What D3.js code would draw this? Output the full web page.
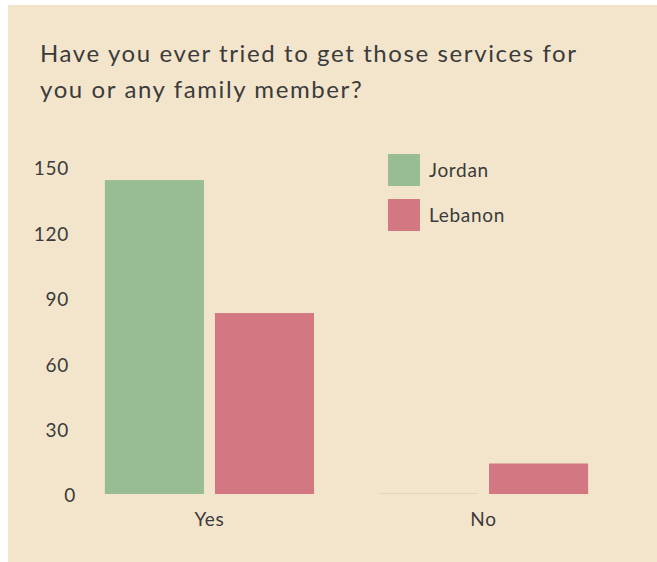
<!DOCTYPE html>
<html>
<head>
<meta charset="utf-8">
<script src="https://cdn.jsdelivr.net/npm/d3@7"></script>
<style>
  html, body { margin: 0; padding: 0; background: #ffffff; }
  svg { display: block; }
  text { font-family: Lato, "Noto Sans", sans-serif; font-weight: 400; fill: #3b3b3b; }
</style>
</head>
<body>
<div id="chart"></div>
<script>
// Chart data
const categories = ["Yes", "No"];
const countries = ["Jordan", "Lebanon"];
const jordanValues = [144, 0];
const lebanonValues = [83, 14];
const yTicks = [0, 30, 60, 90, 120, 150];
const titleLines = ["Have you ever tried to get those services for", "you or any family member?"];

const colors = { Jordan: "#98bd94", Lebanon: "#d37782" };

const width = 657, height = 562;

const svg = d3.select("#chart")
    .append("svg")
    .attr("width", width)
    .attr("height", height);

// beige panel
svg.append("rect")
    .attr("x", 8).attr("y", 5)
    .attr("width", width - 8).attr("height", height - 5)
    .attr("fill", "#f2e5cb");

// title, stretched a bit to mimic the wide original face
const title = svg.append("g");
let ls = 0;
titleLines.forEach((line, i) => {
    const t = title.append("text")
        .attr("x", 40)
        .attr("y", 62 + i * 36)
        .style("font-size", "24px")
        .text(line);
    if (i === 0) {
        const w = t.node().getComputedTextLength();
        ls = (536 - w) / (line.length - 1);
    }
    t.style("letter-spacing", ls + "px");
});

// scales
const x0 = d3.scaleBand()
    .domain(categories)
    .range([72, 621])
    .paddingInner(0.237)
    .paddingOuter(0.12);

const x1 = d3.scaleBand()
    .domain(countries)
    .range([0, x0.bandwidth()])
    .paddingInner(0.1);

const y = d3.scaleLinear()
    .domain([0, 150])
    .range([494, 167]);

const rows = categories.map((c, i) => ({
    category: c,
    values: [
        { country: "Jordan", value: jordanValues[i] },
        { country: "Lebanon", value: lebanonValues[i] }
    ]
}));

// y axis labels (no line, no ticks)
const yAxis = svg.append("g")
    .attr("transform", "translate(69,0)")
    .call(d3.axisLeft(y).tickValues(yTicks).tickSize(0).tickPadding(0));
yAxis.select(".domain").remove();
yAxis.selectAll("text")
    .attr("dy", "0.42em")
    .attr("dx", d => d === 0 ? 7 : 0)
    .style("font-size", "19px")
    .style("letter-spacing", "0.7px")
    .style("font-family", null)
    .attr("fill", "#3b3b3b");

// bars
const groups = svg.append("g")
    .selectAll("g")
    .data(rows)
    .join("g")
    .attr("transform", d => `translate(${x0(d.category)},0)`);

groups.selectAll("rect")
    .data(d => d.values)
    .join("rect")
    .attr("x", d => x1(d.country))
    .attr("width", x1.bandwidth())
    .attr("y", d => d.value === 0 ? y(0) - 1 : y(d.value))
    .attr("height", d => d.value === 0 ? 1 : y(0) - y(d.value))
    .attr("fill", d => colors[d.country])
    .attr("fill-opacity", d => d.value === 0 ? 0.25 : 1);

// x axis labels
const xAxis = svg.append("g")
    .attr("transform", `translate(0,${y(0)})`)
    .call(d3.axisBottom(x0).tickSize(0).tickPadding(30));
xAxis.select(".domain").remove();
xAxis.selectAll("text")
    .attr("dy", "0.1em")
    .style("font-size", "19px")
    .style("letter-spacing", "0.7px")
    .style("font-family", null)
    .attr("fill", "#3b3b3b");

// legend
const legend = svg.append("g")
    .attr("transform", "translate(388,154)");

const items = legend.selectAll("g")
    .data(countries)
    .join("g")
    .attr("transform", (d, i) => `translate(0,${i * 45})`);

items.append("rect")
    .attr("width", 32)
    .attr("height", 32)
    .attr("fill", d => colors[d]);

items.append("text")
    .attr("x", 41)
    .attr("y", 16)
    .attr("dy", "0.35em")
    .style("font-size", "19px")
    .style("letter-spacing", "0.7px")
    .text(d => d);
</script>
</body>
</html>
